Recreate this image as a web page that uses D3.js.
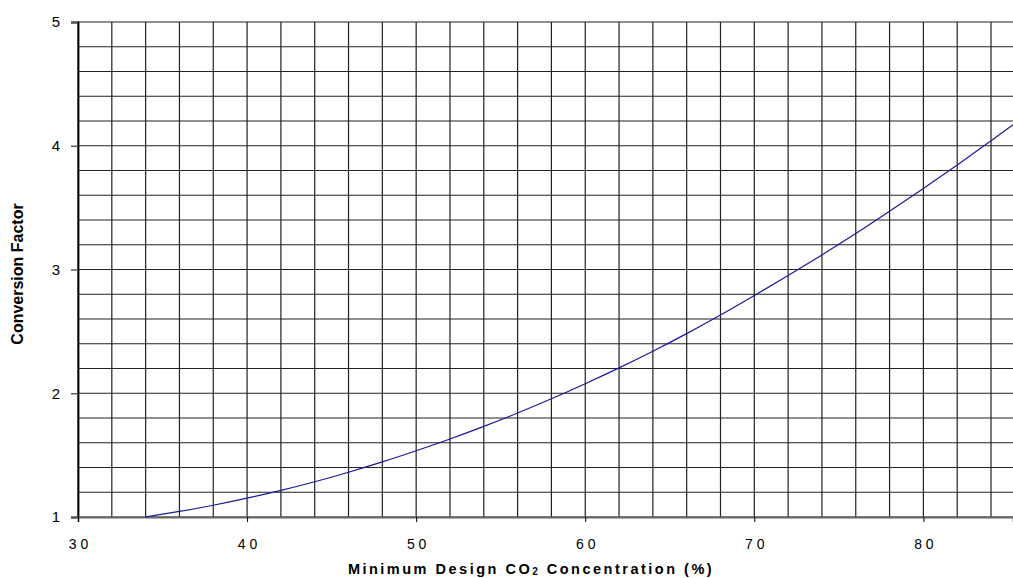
<!DOCTYPE html>
<html><head><meta charset="utf-8">
<script src="https://cdn.jsdelivr.net/npm/d3@7"></script>
<style>body{margin:0;background:#fff}svg{display:block}</style>
</head><body>
<svg id="c" width="1013" height="578"></svg>
<script>
const xVals = [34, 36, 38, 40, 42, 44, 46, 48, 50, 52, 54, 56, 58, 60, 62, 64, 66, 68, 70, 72, 74, 76, 78, 80, 82, 84, 85.3];
const yVals = [1.0, 1.045, 1.095, 1.152, 1.215, 1.285, 1.362, 1.445, 1.535, 1.630, 1.732, 1.840, 1.955, 2.077, 2.205, 2.340, 2.482, 2.632, 2.790, 2.952, 3.118, 3.290, 3.470, 3.655, 3.845, 4.040, 4.170];
const xTickLabels = [30, 40, 50, 60, 70, 80];
const yTickLabels = [1, 2, 3, 4, 5];
const xGrid = d3.range(30, 85.5, 2);
const yGrid = d3.range(1, 5.01, 0.2);

const svg = d3.select("#c");
const x = d3.scaleLinear().domain([30, 85.3]).range([78, 1013]);
const y = d3.scaleLinear().domain([1, 5]).range([517, 22]);
const FONT = "Liberation Sans, Arial, sans-serif";

const g = svg.append("g");
g.selectAll(".vg").data(xGrid).join("line")
  .attr("x1", d => x(d)).attr("x2", d => x(d)).attr("y1", y(5)).attr("y2", y(1))
  .attr("stroke", "#222").attr("stroke-width", 1.2);
g.selectAll(".hg").data(yGrid).join("line")
  .attr("x1", x(30)).attr("x2", 1013).attr("y1", d => y(d)).attr("y2", d => y(d))
  .attr("stroke", "#222").attr("stroke-width", 1.2);

// axes
const yAxis = d3.axisLeft(y).tickValues(yTickLabels).tickSize(7).tickPadding(11).tickFormat(d3.format("d"));
const ya = svg.append("g").attr("transform", `translate(${x(30)},0)`).call(yAxis);
ya.select(".domain").attr("stroke", "#000").attr("stroke-width", 1.8);
ya.selectAll(".tick line").attr("stroke", "#555").attr("stroke-width", 1.4);
ya.selectAll(".tick text").attr("font-family", FONT).attr("font-size", 15).attr("fill", "#000");

const xAxis = d3.axisBottom(x).tickValues(xTickLabels).tickSize(5).tickPadding(17)
  .tickFormat(d => String(d).split("").join(" "));
const xa = svg.append("g").attr("transform", `translate(0,${y(1)})`).call(xAxis);
xa.select(".domain").attr("stroke", "#666").attr("stroke-width", 1.8);
xa.selectAll(".tick line").attr("stroke", "#000").attr("stroke-width", 1);
xa.selectAll(".tick text").attr("font-family", FONT).attr("font-size", 14).attr("fill", "#000")
  .attr("xml:space", "preserve");

// curve
const pts = xVals.map((v, i) => [v, yVals[i]]);
svg.append("path").datum(pts)
  .attr("d", d3.line().x(d => x(d[0])).y(d => y(d[1])).curve(d3.curveMonotoneX))
  .attr("fill", "none").attr("stroke", "#1a1a99").attr("stroke-width", 1.2);

// titles
svg.append("text").attr("transform", "translate(23,274) rotate(-90)")
  .attr("text-anchor", "middle").attr("font-family", FONT)
  .attr("font-weight", "bold").attr("font-size", 16).text("Conversion Factor");

const xt = svg.append("text").attr("x", 531).attr("y", 574).attr("text-anchor", "middle")
  .attr("font-family", FONT).attr("font-weight", "bold")
  .attr("font-size", 14.5).attr("letter-spacing", "2.5px");
xt.append("tspan").text("Minimum Design CO");
xt.append("tspan").attr("font-size", 10).attr("dy", 1).text("2");
xt.append("tspan").attr("dy", -1).text(" Concentration (%)");
</script>
</body></html>
